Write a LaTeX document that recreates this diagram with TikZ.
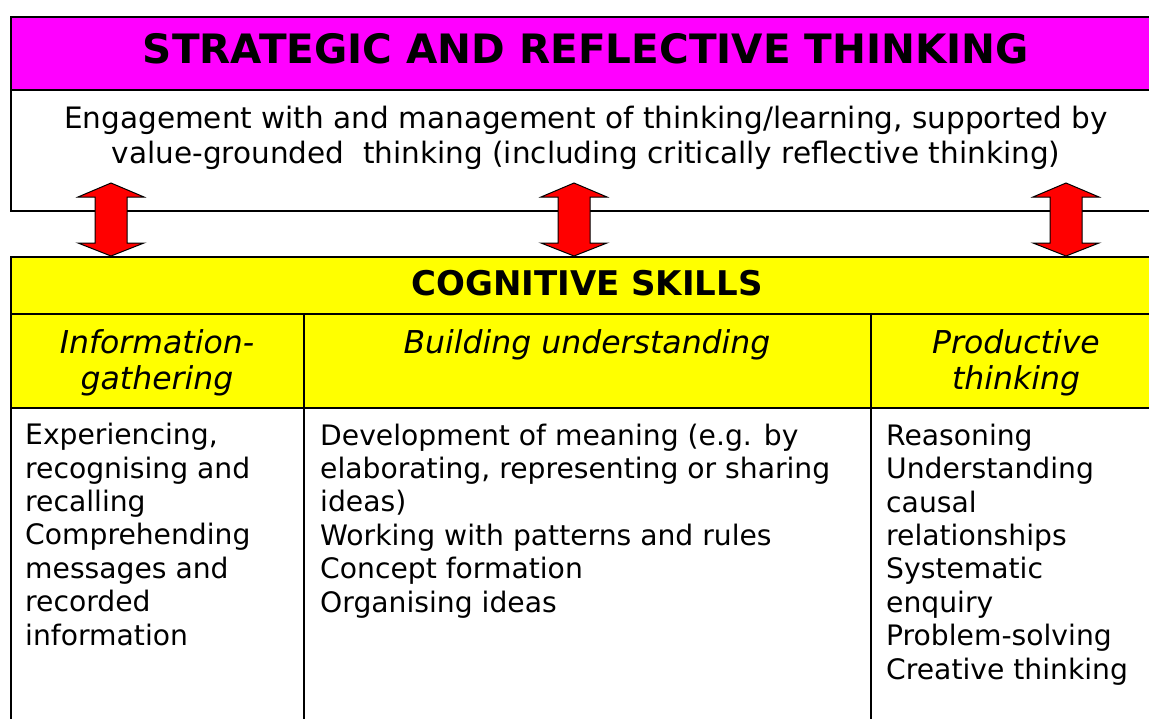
\documentclass[tikz,border=0pt]{standalone}
\usepackage{fontspec}
\setmainfont{DejaVu Sans}
\definecolor{mag}{RGB}{255,0,255}
\definecolor{yel}{RGB}{255,255,0}
\definecolor{red}{RGB}{255,0,0}
\begin{document}
\begin{tikzpicture}[x=1pt,y=-1pt,
  frame/.style={draw=black,line width=1.3pt},
  titletext/.style={inner sep=0pt,anchor=base,font=\fontsize{40.5}{46}\selectfont\bfseries},
  bodytext/.style={inner sep=0pt,anchor=base,align=center,font=\fontsize{29.5}{35}\selectfont},
  headtext/.style={inner sep=0pt,anchor=base,align=center,font=\fontsize{31.5}{36}\selectfont\itshape},
  celltext/.style={inner sep=0pt,anchor=base west,align=left,font=\fontsize{28.2}{33.4}\selectfont},
  dblarrow/.style={draw=black,fill=red,line width=1pt,line join=miter}]
\useasboundingbox (0,0) rectangle (1149,718);
\clip (0,0) rectangle (1149,718);
% top boxes
\draw[frame,fill=mag] (11,17) rectangle (1161,90);
\draw[frame,fill=white] (11,90) rectangle (1161,211);
% cognitive skills table
\draw[frame,fill=yel] (11,257) rectangle (1161,408);
\draw[frame] (11,314) -- (1161,314);
\draw[frame] (304,314) -- (304,730);
\draw[frame] (871,314) -- (871,730);
\draw[frame] (11,408) -- (11,730);
% double arrows
\foreach \cx/\nm in {111/a1,574/a2,1066/a3}{
  \draw[dblarrow] (\cx,183) -- (\cx+33,197) -- (\cx+16,197) -- (\cx+16,243) -- (\cx+33,243)
    -- (\cx,256) -- (\cx-33,243) -- (\cx-16,243) -- (\cx-16,197) -- (\cx-33,197) -- cycle;
}
% texts (multi-line nodes: base anchor = last line's baseline)
\node[titletext] (title) at (586,63) {STRATEGIC AND REFLECTIVE THINKING};
\node[bodytext] (desc) at (586,163) {Engagement with and management of thinking/learning, supported by\\value-grounded\ \ thinking (including critically reflective thinking)};
\node[inner sep=0pt,anchor=base,font=\fontsize{34}{40}\selectfont\bfseries] (cog) at (587,295) {COGNITIVE SKILLS};
\node[headtext] (h1) at (157,389) {Information-\\gathering};
\node[headtext] (h2) at (587,353) {Building understanding};
\node[headtext] (h3) at (1016,389) {Productive\\thinking};
\node[celltext] (c1) at (25,645) {Experiencing,\\recognising and\\recalling\\Comprehending\\messages and\\recorded\\information};
\node[celltext] (c2) at (320,612) {Development of meaning (e.g. by\\elaborating, representing or sharing\\ideas)\\Working with patterns and rules\\Concept formation\\Organising ideas};
\node[celltext] (c3) at (886,679) {Reasoning\\Understanding\\causal\\relationships\\Systematic\\enquiry\\Problem-solving\\Creative thinking};
\end{tikzpicture}
\end{document}
